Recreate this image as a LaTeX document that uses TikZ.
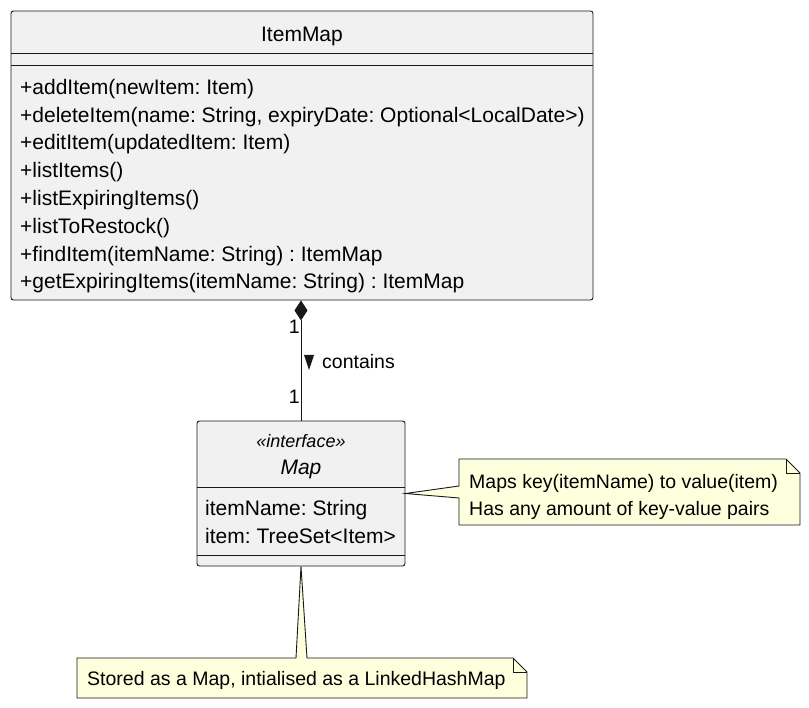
\documentclass[tikz,border=0pt]{standalone}
\usepackage{fontspec}
\setmainfont{Liberation Sans}
\usetikzlibrary{arrows.meta}
\definecolor{umlfill}{HTML}{F1F1F1}
\definecolor{umlline}{HTML}{181818}
\definecolor{notefill}{HTML}{FEFFDD}
\frenchspacing

\begin{document}
\begin{tikzpicture}[x=1pt,y=-1pt,
    classbox/.style={draw=umlline,fill=umlfill,rounded corners=2.5pt,line width=0.9pt,inner sep=0pt},
    member/.style={anchor=base west,inner sep=0pt,font=\fontsize{21}{25}\selectfont},
    notetext/.style={anchor=base west,inner sep=0pt,font=\fontsize{19.5}{23}\selectfont},
    notebox/.style={draw=umlline,fill=notefill,line width=0.9pt,line join=miter}]
  \useasboundingbox (0,0) rectangle (809,708);
  % ItemMap class
  \node[classbox,minimum width=582pt,minimum height=289pt] (itemmap) at (302,155.5) {};
  \node[inner sep=0pt,anchor=base,font=\fontsize{21}{25}\selectfont] (itemmapname) at (302,41.5) {ItemMap};
  \draw[umlline,line width=0.9pt] (11,53) -- (593,53) (11,65) -- (593,65);
  \foreach \m [count=\i] in {{+addItem(newItem: Item)},
      {+deleteItem(name: String, expiryDate: Optional<LocalDate>)},
      {+editItem(updatedItem: Item)}, {+listItems()}, {+listExpiringItems()},
      {+listToRestock()}, {+findItem(itemName: String) : ItemMap},
      {+getExpiringItems(itemName: String) : ItemMap}} {
    \node[member] (op\i) at (20,{66.5+27.8*\i}) {\m};
  }
  % Map interface
  \node[classbox,minimum width=208pt,minimum height=145pt] (map) at (301,493.5) {};
  \node[inner sep=0pt,anchor=base,font=\fontsize{18}{21}\selectfont\itshape] (stereo) at (301,447.5) {«interface»};
  \node[inner sep=0pt,anchor=base,font=\fontsize{21}{25}\selectfont\itshape] (mapname) at (301,474.5) {Map};
  \draw[umlline,line width=0.9pt] (197,487) -- (405,487) (197,555) -- (405,555);
  \node[member] (attr1) at (205,515.5) {itemName: String};
  \node[member] (attr2) at (205,543.5) {item: TreeSet<Item>};
  % composition
  \draw[umlline,line width=0.9pt,{Diamond[length=20pt,width=13pt,fill=umlline]}-] (map.north |- itemmap.south) -- (map.north);
  \node[notetext,anchor=base east] (multtop) at (300,334) {1};
  \node[notetext,anchor=base east] (multbot) at (300,404) {1};
  \fill[umlline] (304,355) -- (314,355) -- (309,370) -- cycle;
  \node[notetext] (contains) at (322,368.5) {contains};
  % notes
  \draw[notebox] (459,459) -- (786,459) -- (800,473) -- (800,525) -- (459,525) -- (459,498)
    -- (map.east) -- (459,486) -- cycle;
  \draw[umlline,line width=0.9pt] (786,459) -- (786,473) -- (800,473);
  \node[notetext] (notea1) at (469,489) {Maps key(itemName) to value(item)};
  \node[notetext] (notea2) at (469,515) {Has any amount of key-value pairs};
  \draw[notebox] (77,658) -- (296,658) -- (map.south) -- (307,658) -- (513,658) -- (527,672)
    -- (527,698) -- (77,698) -- cycle;
  \draw[umlline,line width=0.9pt] (513,658) -- (513,672) -- (527,672);
  \node[notetext] (noteb) at (87,685) {Stored as a Map, intialised as a LinkedHashMap};
\end{tikzpicture}
\end{document}
